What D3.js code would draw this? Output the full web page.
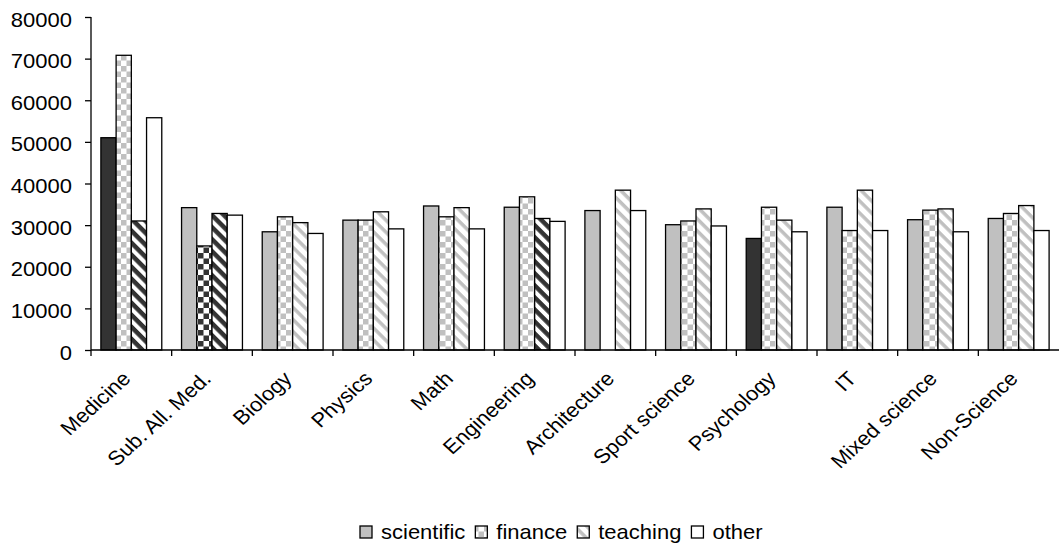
<!DOCTYPE html>
<html>
<head>
<meta charset="utf-8">
<script src="https://cdn.jsdelivr.net/npm/d3@7"></script>
<style>
  body { margin: 0; background: #fff; }
  text { font-family: "Liberation Sans", Arial, sans-serif; fill: #000; }
</style>
</head>
<body>
<div id="wrapper"></div>
<script>
// categories on the x axis
const categories = ["Medicine", "Sub. All. Med.", "Biology", "Physics", "Math", "Engineering",
    "Architecture", "Sport science", "Psychology", "IT", "Mixed science", "Non-Science"];
// one array per series
const scientific = [51000, 34200, 28400, 31200, 34600, 34300, 33500, 30100, 26800, 34300, 31300, 31600];
const finance = [70800, 25000, 32000, 31200, 32000, 36800, null, 31000, 34300, 28700, 33600, 32800];
const teaching = [31000, 32800, 30600, 33200, 34200, 31600, 38400, 33900, 31200, 38400, 33900, 34700];
const other = [55800, 32400, 28000, 29100, 29100, 30900, 33500, 29800, 28400, 28700, 28400, 28700];
const seriesNames = ["scientific", "finance", "teaching", "other"];
// bars drawn in the dark version of their pattern
const scientificDark = ["Medicine", "Psychology"];
const financeDark = ["Sub. All. Med."];
const teachingDark = ["Medicine", "Sub. All. Med.", "Engineering"];
const otherDark = [];
const yTicks = [0, 10000, 20000, 30000, 40000, 50000, 60000, 70000, 80000];

function buildPlot() {
    const width = 1064, height = 549;
    const margin = {top: 17, left: 91, right: 5, bottom: 199};
    const fontSize = 20;
    const stretch = 1.1; //the reference text is a bit wider than plain Arial

    const svg = d3.select("#wrapper").append("svg")
        .attr("width", width)
        .attr("height", height);

    const defs = svg.append("defs");
    const light = "#c0c0c0", dark = "#333333";

    //checker patterns for finance
    [["checkLight", light], ["checkDark", dark]].forEach(([id, col]) => {
        const p = defs.append("pattern").attr("id", id)
            .attr("patternUnits", "userSpaceOnUse")
            .attr("width", 11).attr("height", 11);
        p.append("rect").attr("width", 11).attr("height", 11).attr("fill", "#fff");
        p.append("rect").attr("width", 5.5).attr("height", 5.5).attr("fill", col);
        p.append("rect").attr("x", 5.5).attr("y", 5.5).attr("width", 5.5).attr("height", 5.5).attr("fill", col);
    });
    //diagonal stripes for teaching
    [["stripeLight", light, 3.5], ["stripeDark", dark, 4.5]].forEach(([id, col, w]) => {
        const p = defs.append("pattern").attr("id", id)
            .attr("patternUnits", "userSpaceOnUse")
            .attr("width", 8.5).attr("height", 8.5)
            .attr("patternTransform", "rotate(45)");
        p.append("rect").attr("width", 8.5).attr("height", 8.5).attr("fill", "#fff");
        p.append("rect").attr("width", 8.5).attr("height", w).attr("fill", col);
    });

    const fills = {
        scientific: [light, dark],
        finance: ["url(#checkLight)", "url(#checkDark)"],
        teaching: ["url(#stripeLight)", "url(#stripeDark)"],
        other: ["#fff", "#fff"]
    };
    const darkLists = {scientific: scientificDark, finance: financeDark, teaching: teachingDark, other: otherDark};
    const values = {scientific, finance, teaching, other};

    const x = d3.scaleBand()
        .domain(categories)
        .range([margin.left, width - margin.right])
        .paddingInner(0).paddingOuter(0);
    const xSub = d3.scaleBand()
        .domain(seriesNames)
        .range([0, x.bandwidth()])
        .paddingInner(0).paddingOuter(0.65);
    const y = d3.scaleLinear()
        .domain([0, 80000])
        .range([height - margin.bottom, margin.top]);

    const data = [];
    categories.forEach((c, i) => {
        seriesNames.forEach(s => {
            const v = values[s][i];
            if (v == null) return;
            data.push({cat: c, series: s, value: v, dark: darkLists[s].includes(c)});
        });
    });

    svg.append("g").selectAll("rect")
        .data(data)
        .enter()
        .append("rect")
        .attr("x", d => x(d.cat) + xSub(d.series))
        .attr("y", d => y(d.value))
        .attr("width", xSub.bandwidth())
        .attr("height", d => y(0) - y(d.value))
        .attr("fill", d => fills[d.series][d.dark ? 1 : 0])
        .attr("stroke", "#000")
        .attr("stroke-width", 1.3);

    //y axis
    const yAxis = svg.append("g")
        .attr("transform", `translate(${margin.left},0)`)
        .call(d3.axisLeft(y).tickValues(yTicks).tickFormat(d3.format("d")).tickSize(6).tickPadding(13));
    yAxis.select(".domain").attr("stroke", "#000").attr("stroke-width", 1.3).attr("d", `M0,${margin.top}V${y(0)}`);
    yAxis.selectAll(".tick line").attr("stroke", "#000").attr("stroke-width", 1.3);
    yAxis.selectAll("text")
        .attr("font-size", fontSize)
        .attr("font-family", "Liberation Sans, Arial, sans-serif")
        .attr("x", -19 / stretch)
        .attr("dy", "0.45em")
        .attr("transform", `scale(${stretch},1)`);

    //x axis: labels at band centres, ticks at the band edges
    const xAxis = svg.append("g")
        .attr("transform", `translate(0,${y(0)})`)
        .call(d3.axisBottom(x).tickSize(0).tickPadding(0));
    xAxis.select(".domain").attr("stroke", "#000").attr("stroke-width", 1.3)
        .attr("d", `M${margin.left},0H${x.range()[1]}`);
    xAxis.selectAll(".tick text")
        .attr("font-size", fontSize)
        .attr("font-family", "Liberation Sans, Arial, sans-serif")
        .attr("text-anchor", "end")
        .attr("x", 0).attr("y", 0).attr("dy", "0.35em")
        .attr("transform", `translate(-5,25) scale(${stretch},1) rotate(-45)`);
    xAxis.selectAll(".edge")
        .data(categories)
        .enter()
        .append("line")
        .attr("class", "edge")
        .attr("x1", d => x(d)).attr("x2", d => x(d))
        .attr("y1", 0).attr("y2", 6)
        .attr("stroke", "#000").attr("stroke-width", 1.3);

    //legend
    const legend = svg.append("g").attr("transform", "translate(0,526)");
    let lx = 360;
    seriesNames.forEach(s => {
        legend.append("rect")
            .attr("x", lx).attr("y", 0)
            .attr("width", 12).attr("height", 12)
            .attr("fill", fills[s][0])
            .attr("stroke", "#000").attr("stroke-width", 1.3);
        const t = legend.append("text")
            .attr("transform", `translate(${lx + 21},13) scale(${stretch},1)`)
            .attr("font-size", fontSize)
            .text(s);
        lx += 21 + t.node().getComputedTextLength() * stretch + 10;
    });
}

buildPlot()
</script>
</body>
</html>
